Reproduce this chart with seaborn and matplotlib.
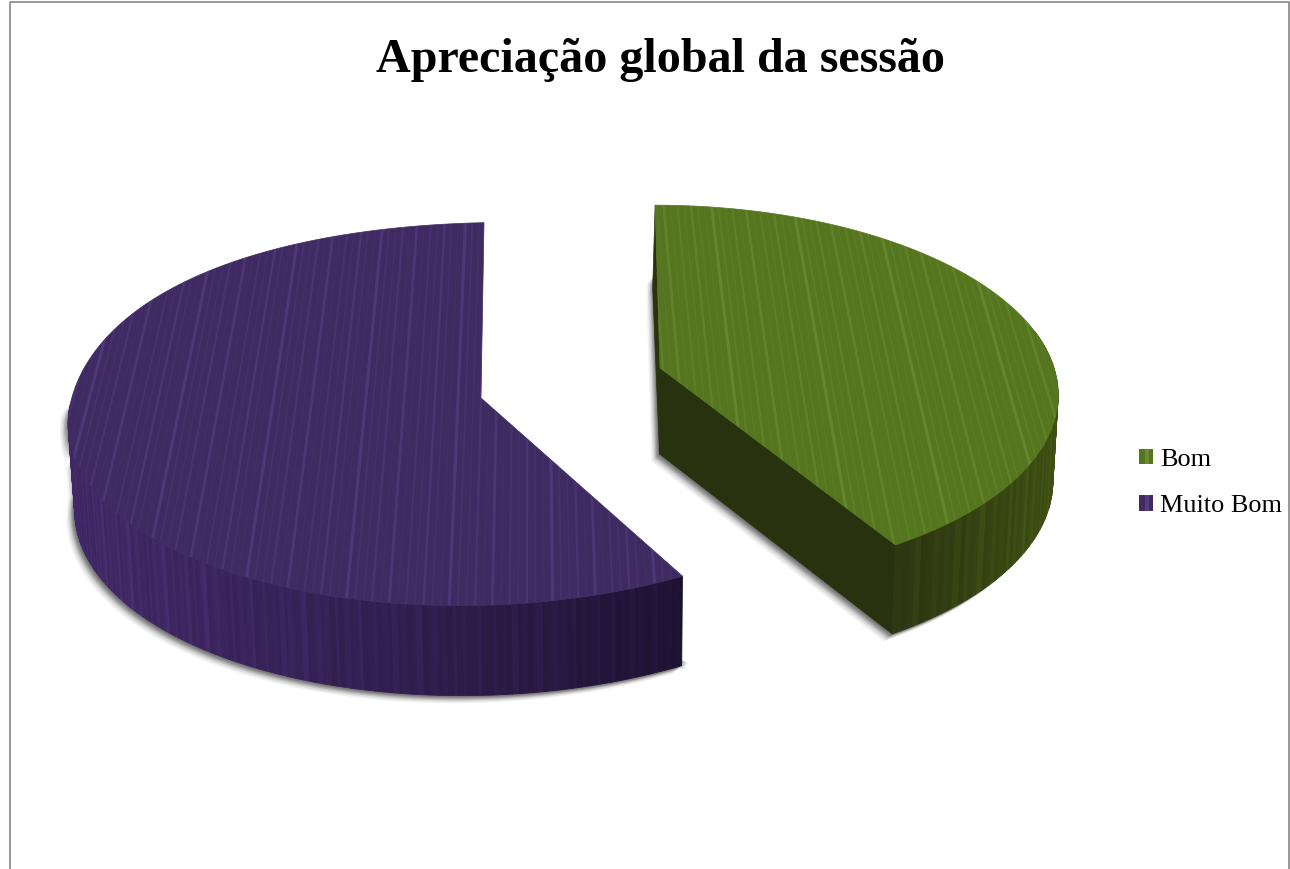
import numpy as np
import matplotlib
matplotlib.use("Agg")
import matplotlib.pyplot as plt
import seaborn as sns
from matplotlib.collections import LineCollection, PolyCollection
from matplotlib.patches import Patch, Polygon, Rectangle
from matplotlib.legend_handler import HandlerBase
from matplotlib.colors import to_rgb

# ---- data ----
categories = ["Bom", "Muito Bom"]
shares = [42, 58]
title = "Apreciação global da sessão"

# ---- styles ----
top_colors = ["#55761f", "#402a62"]
stripe_colors = ["#6a8c35", "#553d80"]
side_light = ["#3c4c12", "#3d2660"]
side_dark = ["#293210", "#1b102e"]
cut_color = "#29320f"
frame_color = "#868686"

sns.set_theme(style="white")
plt.rcParams["font.family"] = ["Liberation Serif", "DejaVu Serif"]

fig = plt.figure(figsize=(12.9, 8.69), dpi=100)
ax = fig.add_axes([0, 0, 1, 1])
ax.set_xlim(0, 1290)
ax.set_ylim(869, 0)
ax.axis("off")

# frame of the chart area
ax.plot([10, 10, 1289, 1289], [869, 1.5, 1.5, 869], color=frame_color, lw=1.2, zorder=1)

# perspective geometry of each exploded slice
geom = {
    0: dict(cx=660, cy=368, rx=394, ry=184, k=0.13, sk=0.03, shy=0.0, warp=-0.09, bulge=0.0),
    1: dict(cx=481, cy=398, rx=411, ry=190, k=0.0838, sk=-0.017, shy=-0.02, warp=0.05, bulge=0.025),
}


def project(theta, g, r=1.0):
    t = theta + g["warp"] * np.sin(theta)
    r = r * (1 + g["bulge"] * np.sin(2 * t) ** 2 * (np.cos(t) > 0) * (np.sin(t) < 0))
    u = r * np.sin(t)
    v = r * np.cos(t)
    w = 1 + g["k"] * v
    xr = g["rx"] * u / w
    y = g["cy"] - g["ry"] * v / w + g["shy"] * xr
    x = g["cx"] + xr + g["sk"] * (y - g["cy"])
    return x, y


def lower(x, y):
    d = 83 + (y - 205) * 0.0175
    return 620 + (x - 620) * 0.988, y + d


fractions = np.array(shares) / np.sum(shares)
edges = np.concatenate([[0], np.cumsum(fractions)]) * 2 * np.pi
band_cycle = [0.0, 0.35, 0.1, 0.6, 0.2, 0.0, 0.9, 0.3, 0.1, 0.5, 0.0, 0.7]

for i in (1, 0):
    g = geom[i]
    t0, t1 = edges[i], edges[i + 1]
    th = np.linspace(t0, t1, 500)
    x, y = project(th, g)
    ax_, ay_ = project(np.array([0.0]), g, r=0.0)
    top = np.column_stack([np.r_[ax_, x], np.r_[ay_, y]])
    abx, aby = lower(ax_, ay_)

    # rim that faces the viewer
    front = np.cos(th) < 0.12 if i == 0 else np.cos(th) < 0.06
    fth = th[front]
    fx, fy = project(fth, g)
    fbx, fby = lower(fx, fy)

    # soft shadow below the solid
    if i == 1:
        sil = np.r_[np.column_stack([fx, fy]), np.column_stack([fbx, fby])[::-1]]
    else:
        tx, ty = project(np.array([t0]), g)
        tbx, tby = lower(tx, ty)
        sil = np.vstack([[tx[0], ty[0] + 70], [tbx[0], tby[0]], [abx[0], aby[0]],
                         np.column_stack([fbx[::-1], fby[::-1]])])
    for off, al in zip([11, 9, 7, 5.5, 4, 2.5, 1], [0.07, 0.12, 0.16, 0.22, 0.28, 0.32, 0.35]):
        s = sil + np.array([-off * 0.75, off * 0.7])
        ax.add_patch(Polygon(s, closed=True, fc="#505050", ec="none", alpha=al, zorder=2))
    if i == 1:  # small shadow to the right of the cut corner
        ex, ey = project(np.array([t0]), g)
        ebx, eby = lower(ex, ey)
        for off, al in zip([6, 4, 2], [0.12, 0.18, 0.25]):
            ax.add_patch(Polygon([[ebx[0] - 6, eby[0] - 10], [ebx[0] + off, eby[0] - 3],
                                  [ebx[0] + off - 3, eby[0] + off * 0.6], [ebx[0] - 12, eby[0] + 3]],
                                 closed=True, fc="#555555", ec="none", alpha=al, zorder=2.2))

    # flat cut faces
    if i == 0:
        sx, sy = project(np.array([t0]), g)
        sbx, sby = lower(sx, sy)
        ax.add_patch(Polygon([[sx[0], sy[0]], [ax_[0], ay_[0]], [abx[0], aby[0]], [sbx[0] - 2, sby[0]]],
                             closed=True, fc=cut_color, ec=cut_color, lw=0.5, zorder=3))
        ex, ey = project(np.array([t1]), g)
        ebx, eby = lower(ex, ey)
        ax.add_patch(Polygon([[ax_[0], ay_[0]], [ex[0], ey[0]], [ebx[0], eby[0]], [abx[0], aby[0]]],
                             closed=True, fc=cut_color, ec=cut_color, lw=0.5, zorder=3))

    # rim, shaded from light to dark with narrow bands
    n_strip = 180 if i == 1 else 70
    idx = np.linspace(0, len(fth) - 1, n_strip + 1).astype(int)
    quads, cols = [], []
    cl, cd = np.array(to_rgb(side_light[i])), np.array(to_rgb(side_dark[i]))
    for j in range(n_strip):
        a, b = idx[j], idx[j + 1]
        quads.append([[fx[a], fy[a]], [fx[b], fy[b]], [fbx[b], fby[b]], [fbx[a], fby[a]]])
        xm = (fx[a] + fx[b]) / 2
        if i == 1:
            f = np.clip((683 - xm) / 560, 0, 1) ** 0.8
            c = cd + (cl - cd) * f
        else:
            f = np.clip((1060 - xm) / 170, 0, 1)
            c = cl + (cd - cl) * f
        c = c * (1 + 0.2 * band_cycle[j % len(band_cycle)])
        cols.append(np.clip(c, 0, 1))
    ax.add_collection(PolyCollection(quads, facecolors=cols, edgecolors=cols, linewidths=0.6, zorder=4))

    # top face with fine converging stripes
    top_patch = Polygon(top, closed=True, fc=top_colors[i], ec=top_colors[i], lw=0.5, zorder=5)
    ax.add_patch(top_patch)
    vp = np.array([530.0, -1300.0])
    xb = np.arange(-300, 1500, 9.5)
    segs = [[(vp[0], vp[1]), (xk, 800.0)] for xk in xb]
    wid = [0.9 + 1.5 * band_cycle[k % len(band_cycle)] for k in range(len(segs))]
    alp = [0.2 + 0.55 * band_cycle[k % len(band_cycle)] for k in range(len(segs))]
    lc = LineCollection(segs, colors=[(*to_rgb(stripe_colors[i]), a) for a in alp], linewidths=wid, zorder=6)
    ax.add_collection(lc)
    lc.set_clip_path(top_patch)

# title
ax.text(660.5, 60, title, ha="center", va="center", fontsize=34.6, fontweight="bold", color="black", zorder=10)


# legend with textured keys
class StripedKey(HandlerBase):
    def __init__(self, base, light):
        super().__init__()
        self.base, self.light = base, light

    def create_artists(self, legend, orig, xd, yd, w, h, fs, trans):
        r = Rectangle((-xd, -yd), w, h, fc=self.base, ec="none", transform=trans)
        s = Rectangle((-xd + w * 0.42, -yd), w * 0.28, h, fc=self.light, ec="none", transform=trans)
        return [r, s]


handles = [Patch(label=c) for c in categories]
ax.legend(handles=handles, loc="center left", bbox_to_anchor=(1134 / 1290, 1 - 483 / 869),
          frameon=False, fontsize=18.9, labelspacing=0.94, handlelength=0.53, handleheight=0.53,
          handletextpad=0.27, borderpad=0.2, borderaxespad=0,
          handler_map={handles[k]: StripedKey(top_colors[k], stripe_colors[k]) for k in range(2)},
          labelcolor="black")

fig.savefig("out.png", dpi=100, facecolor="white")
